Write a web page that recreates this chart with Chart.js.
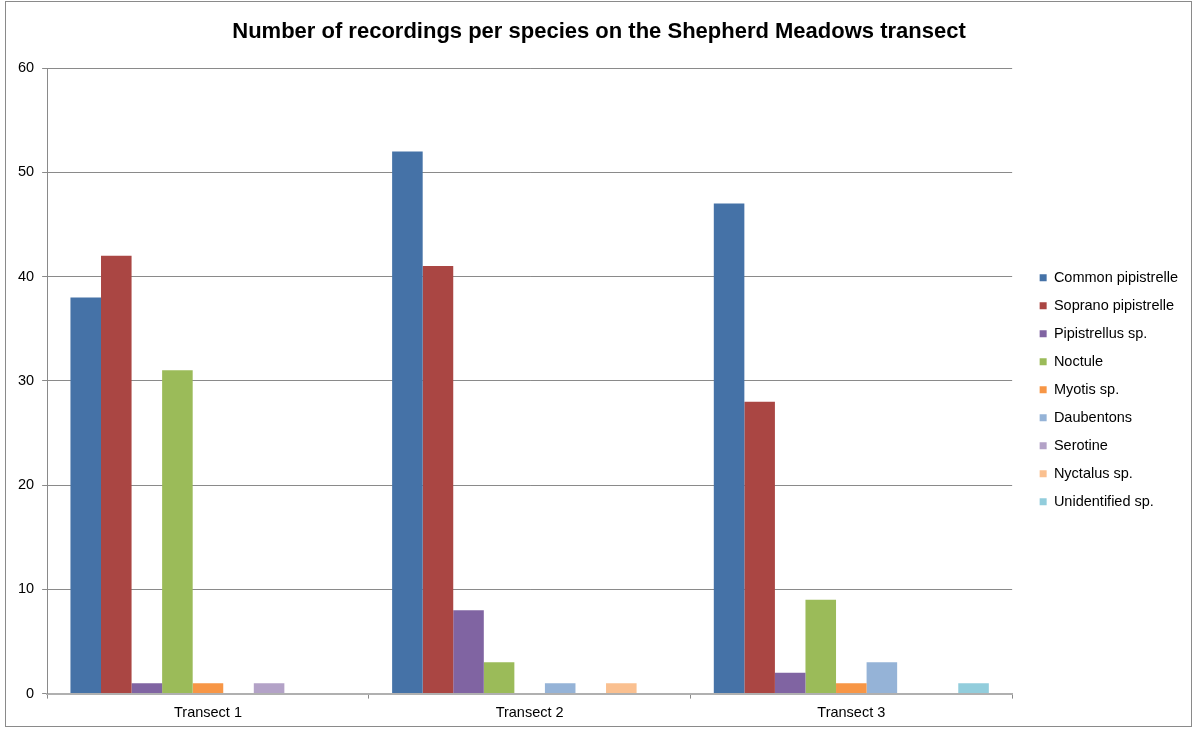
<!DOCTYPE html>
<html>
<head>
<meta charset="utf-8">
<script src="https://cdn.jsdelivr.net/npm/chart.js@4.4.0/dist/chart.umd.min.js"></script>
<style>
    body { margin: 0; background: #fff; }
    #frame {
        position: absolute; left: 5px; top: 1px; width: 1187px; height: 726px;
        border: 1px solid #8a8a8a; box-sizing: border-box;
    }
    #chart { position: absolute; left: 0; top: 0; }
</style>
</head>
<body>
<div id="frame"></div>
<canvas id="chart" width="1195" height="731"></canvas>
<script>
// Number of recordings per species, per transect
const transects = ['Transect 1', 'Transect 2', 'Transect 3'];
const species = [
    'Common pipistrelle', 'Soprano pipistrelle', 'Pipistrellus sp.', 'Noctule', 'Myotis sp.',
    'Daubentons', 'Serotine', 'Nyctalus sp.', 'Unidentified sp.'
];
const commonPip = [38, 52, 47];
const sopranoPip = [42, 41, 28];
const pipistrellusSp = [1, 8, 2];
const noctule = [31, 3, 9];
const myotisSp = [1, 0, 1];
const daubentons = [0, 1, 3];
const serotine = [1, 0, 0];
const nyctalusSp = [0, 1, 0];
const unidentifiedSp = [0, 0, 1];
const yTicks = [0, 10, 20, 30, 40, 50, 60];

const seriesValues = [commonPip, sopranoPip, pipistrellusSp, noctule, myotisSp,
    daubentons, serotine, nyctalusSp, unidentifiedSp];
const colours = ['#4572A7', '#AA4643', '#8064A2', '#9BBB59', '#F79646',
    '#95B3D7', '#B3A2C7', '#FAC090', '#92CDDC'];

const fontFamily = 'Liberation Sans, Arial, sans-serif';

const ctx = document.getElementById('chart').getContext('2d');
const chart = new Chart(ctx, {
    type: 'bar',
    data: {
        labels: transects,
        datasets: species.map((name, i) => ({
            label: name,
            data: seriesValues[i],
            backgroundColor: colours[i],
            borderWidth: 0,
            barPercentage: 1.0,
            categoryPercentage: 0.855
        }))
    },
    options: {
        responsive: false,
        animation: false,
        layout: { padding: { left: 10, right: 7, top: 14, bottom: 3 } },
        plugins: {
            title: {
                display: true,
                text: 'Number of recordings per species on the Shepherd Meadows transect',
                font: { family: fontFamily, size: 22, weight: 'bold' },
                color: '#000',
                padding: { top: 5, bottom: 22.6 }
            },
            legend: {
                position: 'right',
                align: 'center',
                title: { display: true, text: ' ', padding: { top: 23, bottom: 0 } },
                labels: {
                    boxWidth: 7,
                    boxHeight: 7,
                    padding: 13.5,
                    color: '#000',
                    font: { family: fontFamily, size: 14.5 }
                }
            },
            tooltip: { enabled: false }
        },
        scales: {
            x: {
                grid: {
                    offset: true,
                    drawOnChartArea: false,
                    tickLength: 5,
                    color: '#8a8a8a'
                },
                border: { color: '#b0b0b0', width: 2 },
                ticks: {
                    color: '#000',
                    padding: 6,
                    font: { family: fontFamily, size: 14.5 }
                }
            },
            y: {
                min: 0,
                max: 60,
                afterBuildTicks: axis => { axis.ticks = yTicks.map(v => ({ value: v })); },
                grid: { color: '#8a8a8a', tickLength: 5 },
                border: { color: '#8a8a8a' },
                ticks: {
                    color: '#000',
                    padding: 8,
                    font: { family: fontFamily, size: 14.5 }
                }
            },
            // empty spacer between the plot and the legend
            gap: {
                position: 'right',
                min: 0,
                max: 60,
                grid: { display: false },
                border: { display: false },
                ticks: { display: false },
                afterFit: axis => { axis.width = 14; }
            }
        }
    }
});
</script>
</body>
</html>
